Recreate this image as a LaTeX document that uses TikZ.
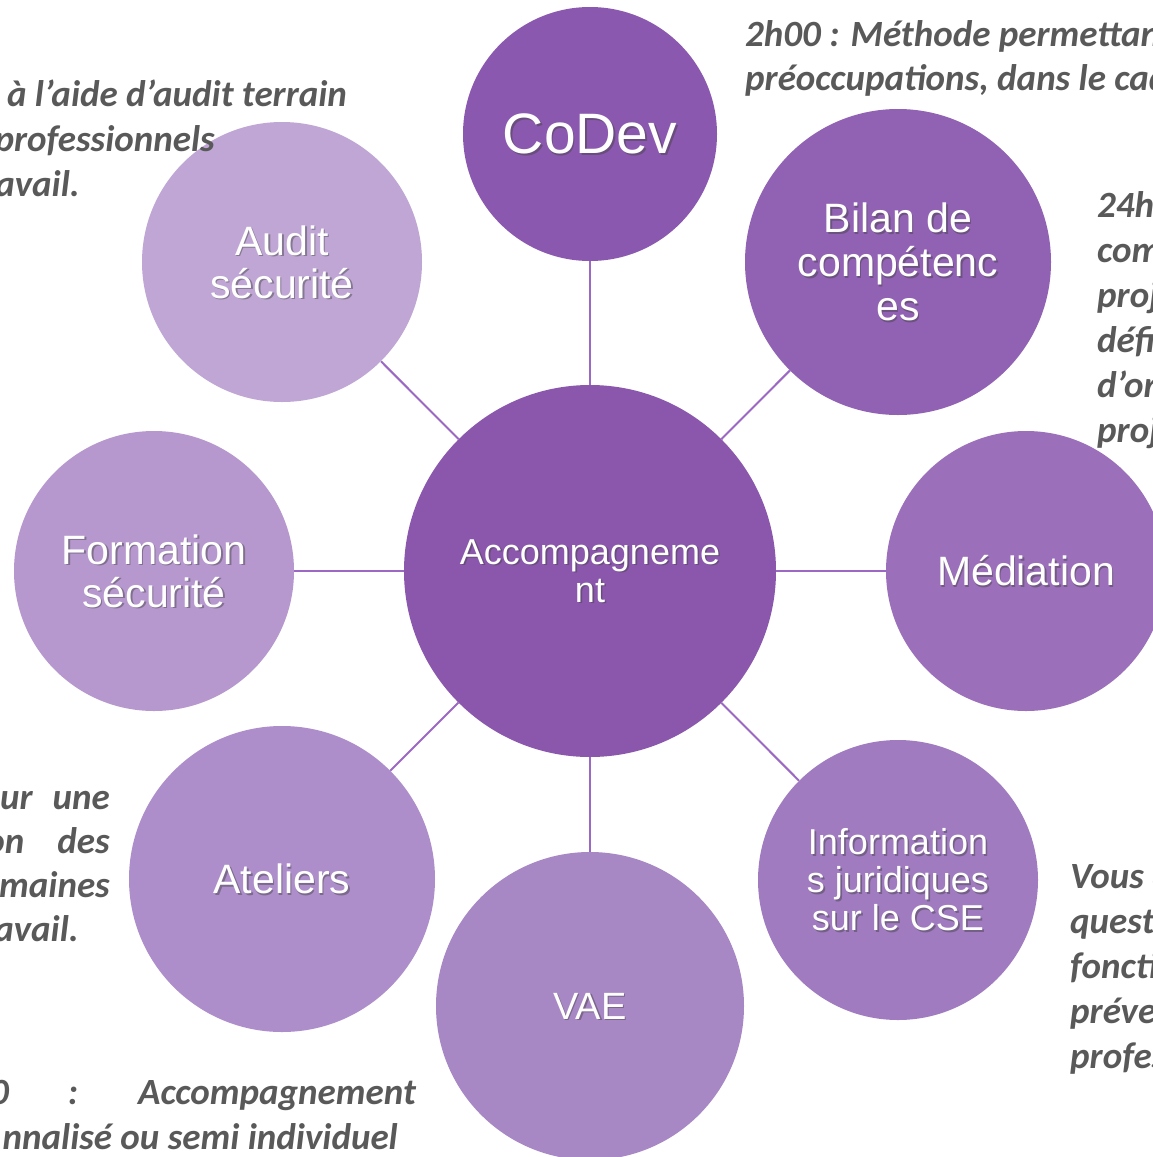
\documentclass[tikz,border=0pt]{standalone}
\usepackage{fontspec}
\setmainfont{Liberation Sans}
\newfontfamily\descfont{Carlito}
\definecolor{cCenter}{RGB}{138,87,173}
\definecolor{cCodev}{RGB}{139,88,175}
\definecolor{cBilan}{RGB}{145,98,179}
\definecolor{cMed}{RGB}{155,111,186}
\definecolor{cInfo}{RGB}{160,123,192}
\definecolor{cVae}{RGB}{168,135,197}
\definecolor{cAtel}{RGB}{173,142,202}
\definecolor{cForm}{RGB}{182,152,207}
\definecolor{cAudit}{RGB}{191,166,213}
\definecolor{cLink}{RGB}{155,105,195}
\definecolor{cDesc}{RGB}{89,89,89}
\newcommand\bubblenode[6]{%
  \node[bubble, minimum size=#3, fill=#4, font=#5,
    path picture={\node[text=black!75, opacity=.45, font=#5, align=center, inner sep=0pt]
      at ([shift={(1.6,1.6)}]path picture bounding box.center) {#6};}] (#1) at #2 {#6};}
\begin{document}
\begin{tikzpicture}[x=1pt,y=-1pt,
  bubble/.style={circle, inner sep=0pt, text=white, align=center, draw=none},
  link/.style={draw=cLink, line width=2pt},
  desc/.style={font=\descfont\bfseries\itshape\fontsize{37}{45}\selectfont, text=cDesc, inner sep=0pt, anchor=base west},
  descr/.style={desc, anchor=base east}]
\useasboundingbox (0,0) rectangle (1153,1157);
\clip (0,0) rectangle (1153,1157);
\fill[white] (0,0) rectangle (1153,1157);

% bubbles
\bubblenode{center}{(590,571)}{372pt}{cCenter}{\fontsize{36}{38}\selectfont}{Accompagneme\\nt}
\bubblenode{codev}{(590,134)}{254pt}{cCodev}{\fontsize{57}{60}\selectfont}{CoDev}
\bubblenode{bilan}{(898,262)}{306pt}{cBilan}{\fontsize{41}{44}\selectfont}{Bilan de\\compétenc\\es}
\bubblenode{med}{(1026,571)}{280pt}{cMed}{\fontsize{41}{44}\selectfont}{Médiation}
\bubblenode{info}{(898,880)}{280pt}{cInfo}{\fontsize{36}{38}\selectfont}{Information\\s juridiques\\sur le CSE}
\bubblenode{vae}{(590,1006)}{308pt}{cVae}{\fontsize{38}{42}\selectfont}{VAE}
\bubblenode{atel}{(282,879)}{306pt}{cAtel}{\fontsize{41}{44}\selectfont}{Ateliers}
\bubblenode{form}{(154,571)}{280pt}{cForm}{\fontsize{41}{43}\selectfont}{Formation\\sécurité}
\bubblenode{audit}{(282,262)}{280pt}{cAudit}{\fontsize{41}{43}\selectfont}{Audit\\sécurité}

% connectors
\draw[link] (center) -- (codev);
\draw[link] (center) -- (bilan);
\draw[link] (center) -- (med);
\draw[link] (center) -- (info);
\draw[link] (center) -- (vae);
\draw[link] (center) -- (atel);
\draw[link] (center) -- (form);
\draw[link] (center) -- (audit);

% descriptions (cut by the page edge, as in the reference)
\node[descr] (d1a) at (347,106) {à l’aide d’audit terrain};
\node[descr] (d1b) at (215,151) {professionnels};
\node[descr] (d1c) at (80,196) {avail.};

\node[desc] (d2a) at (745,46) {2h00 : Méthode permettant};
\node[desc] (d2b) at (745,90) {préoccupations, dans le cadre};

\node[desc] (d3a) at (1097,217) {24h00};
\node[desc] (d3b) at (1097,262) {compétences};
\node[desc] (d3c) at (1097,307) {projet};
\node[desc] (d3d) at (1097,352) {définir};
\node[desc] (d3e) at (1097,397) {d’orientation};
\node[desc] (d3f) at (1097,442) {projet};

\node[desc] (d4a) at (1070,888) {Vous avez};
\node[desc] (d4b) at (1070,933) {questions};
\node[desc] (d4c) at (1070,978) {fonctionnement};
\node[desc] (d4d) at (1070,1023) {prévention};
\node[desc] (d4e) at (1070,1068) {professionnels};

\node[descr] (d5a) at (110,809) {ur\hspace{20pt}une};
\node[descr] (d5b) at (110,853) {on\hspace{33pt}des};
\node[descr] (d5c) at (110,897) {maines};
\node[descr] (d5d) at (79,941) {avail.};

\node[desc] (d6a) at (-10,1104) {0};
\node[desc, anchor=base] (d6b) at (73,1104) {:};
\node[descr] (d6c) at (416,1104) {Accompagnement};
\node[descr] (d6d) at (398,1149) {nnalisé ou semi individuel};
\end{tikzpicture}
\end{document}
